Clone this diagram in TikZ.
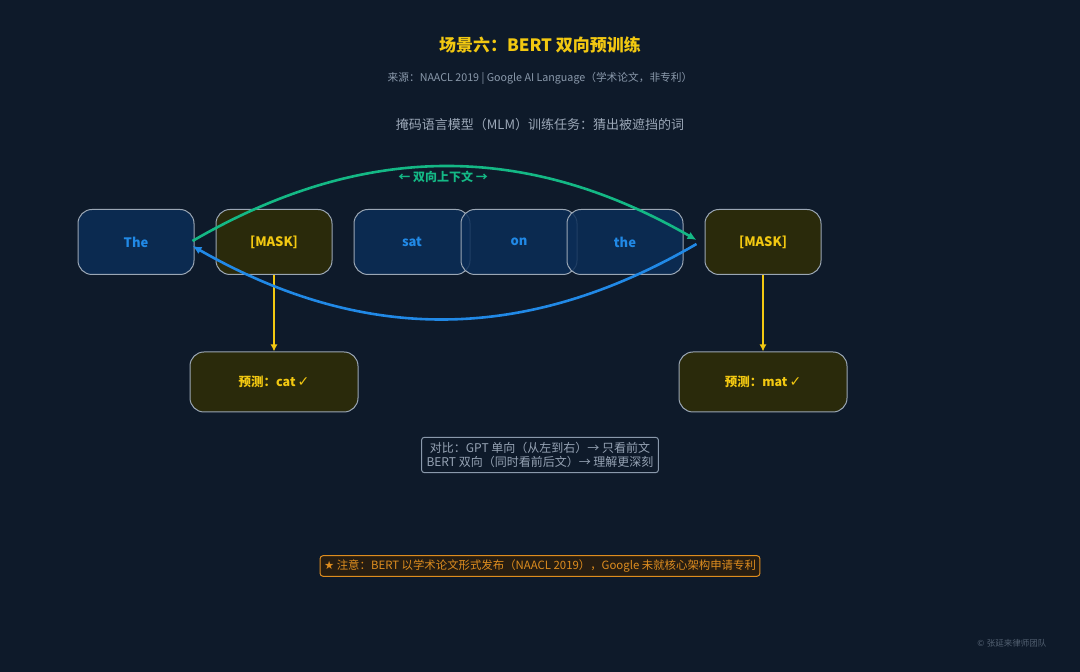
\documentclass[tikz,border=0pt]{standalone}
\usepackage{fontspec}
\setmainfont{Noto Sans CJK SC}
\newfontfamily\symfont{DejaVu Sans}
\usepackage{xcolor}
\usepackage{tikz}
\usetikzlibrary{arrows.meta}

\definecolor{bgnavy}{HTML}{0E1A2A}
\definecolor{titleyel}{HTML}{F2C811}
\definecolor{softgray}{HTML}{8A99AB}
\definecolor{tokfill}{HTML}{0B2D57}
\definecolor{tokline}{HTML}{9AA6B4}
\definecolor{tokblue}{HTML}{2189E6}
\definecolor{maskfill}{HTML}{2A2A0B}
\definecolor{ctxgreen}{HTML}{14B885}
\definecolor{noteorange}{HTML}{DE8D1F}
\definecolor{notefill}{HTML}{271D11}

\begin{document}
\begin{tikzpicture}[x=1pt, y=1pt,
    token/.style={draw=tokline, line width=1pt, rounded corners=14pt, fill=tokfill, fill opacity=0.85, text opacity=1,
      minimum width=116pt, minimum height=65pt, text=tokblue, font=\fontsize{13}{15}\selectfont\bfseries},
    masked/.style={token, fill=maskfill, fill opacity=1, text=titleyel},
    guess/.style={masked, minimum width=168pt, minimum height=60pt, font=\fontsize{12.5}{14}\selectfont\bfseries},
    arc/.style={line width=2.6pt, -{Latex[length=9pt, width=8pt]}}]
    \fill[bgnavy] (0,0) rectangle (1080,672);
    \useasboundingbox (0,0) rectangle (1080,672);

    % headings
    \node[text=titleyel, font=\fontsize{17}{20}\selectfont\bfseries] (title) at (540,627) {场景六：BERT 双向预训练};
    \node[text=softgray, font=\fontsize{10.7}{12}\selectfont] (source) at (540,594) {来源：NAACL 2019 | Google AI Language（学术论文，非专利）};
    \node[text=softgray!85!white, font=\fontsize{13}{15}\selectfont] (task) at (540,547) {掩码语言模型（MLM）训练任务：猜出被遮挡的词};

    % tokens
    \node[token] (w1) at (136,430) {The};
    \node[masked] (m1) at (274,430) {[MASK]};
    \foreach \n/\x/\w in {w3/412/sat, w4/519/on, w5/625/the}
        \node[token] (\n) at (\x,430) {\w};
    \node[masked] (m2) at (763,430) {[MASK]};

    % predictions
    \node[guess] (p1) at (274,290) {预测：cat\,{\symfont\fontsize{14}{14}\selectfont ✓}};
    \node[guess] (p2) at (763,290) {预测：mat\,{\symfont\fontsize{14}{14}\selectfont ✓}};
    \draw[titleyel, line width=1.6pt, -{Latex[length=7pt, width=7pt]}] (m1.south) -- (p1.north);
    \draw[titleyel, line width=1.6pt, -{Latex[length=7pt, width=7pt]}] (m2.south) -- (p2.north);

    % context arcs
    \coordinate (gs) at ([xshift=-2pt, yshift=1pt]w1.east);
    \coordinate (ge) at ([xshift=-8pt, yshift=2pt]m2.west);
    \coordinate (bs) at ([xshift=-8pt, yshift=-2pt]m2.west);
    \coordinate (be) at ([xshift=-2pt, yshift=-4pt]w1.east);
    \draw[arc, ctxgreen] (gs) to[bend left=30] (ge);
    \draw[arc, tokblue] (bs) to[bend left=30] (be);
    \node[text=ctxgreen, font=\fontsize{12}{14}\selectfont\bfseries] (ctx) at (443,495) {← 双向上下文 →};

    % comparison
    \node[draw=softgray, line width=1pt, rounded corners=3pt, text=softgray!90!white, align=center,
          inner sep=5pt, font=\fontsize{12}{14}\selectfont] (cmp) at (540,217)
          {对比：GPT 单向（从左到右）→ 只看前文\\BERT 双向（同时看前后文）→ 理解更深刻};

    % note
    \node[draw=noteorange, fill=notefill, line width=1pt, rounded corners=3pt, text=noteorange,
          inner sep=4pt, font=\fontsize{11.4}{13}\selectfont] (note) at (540,106)
          {{\symfont ★} 注意：BERT 以学术论文形式发布（NAACL 2019），Google 未就核心架构申请专利};

    \node[anchor=east, text=softgray!55!bgnavy, font=\fontsize{8.5}{10}\selectfont] (copy) at (1050,29) {{\symfont ©} 张延来律师团队};
\end{tikzpicture}
\end{document}
